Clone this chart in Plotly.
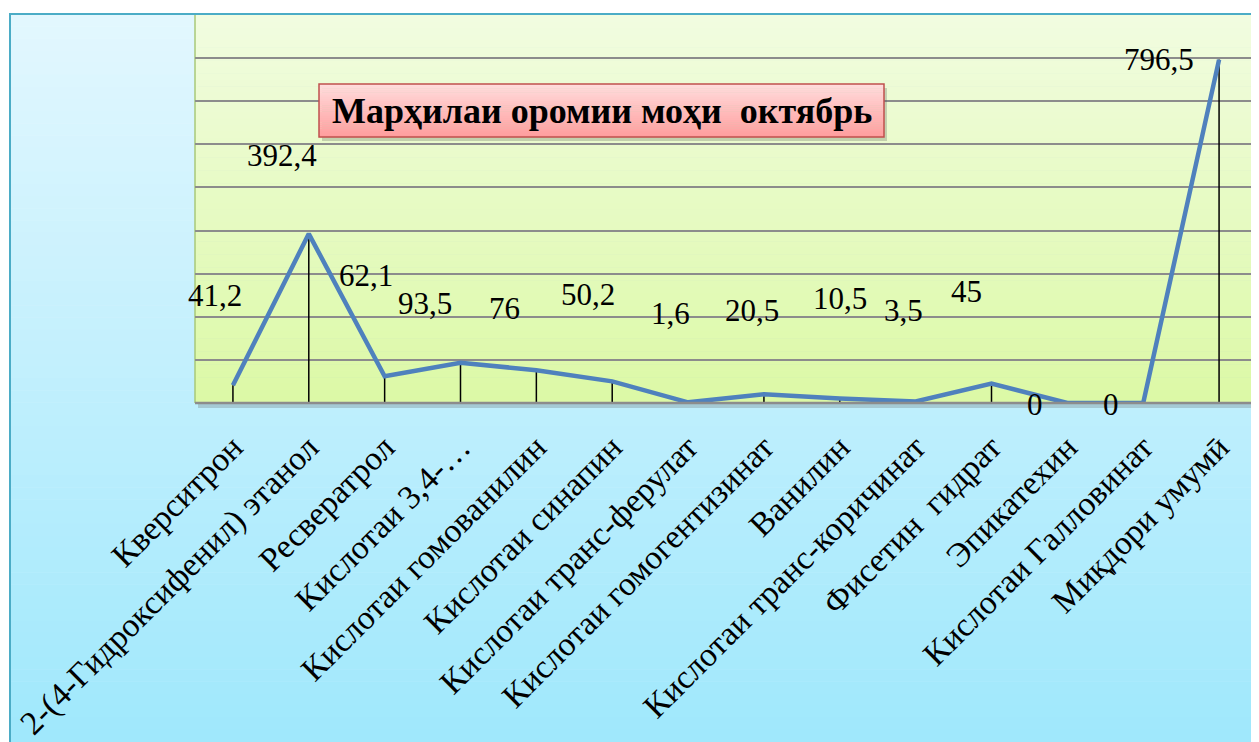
import plotly.graph_objects as go

categories = [
    "Кверситрон",
    "2-(4-Гидроксифенил) этанол",
    "Ресвератрол",
    "Кислотаи 3,4-…",
    "Кислотаи гомованилин",
    "Кислотаи синапин",
    "Кислотаи транс-ферулат",
    "Кислотаи гомогентизинат",
    "Ванилин",
    "Кислотаи транс-коричинат",
    "Фисетин  гидрат",
    "Эпикатехин",
    "Кислотаи Галловинат",
    "Миқдори умумӣ",
]
values = [41.2, 392.4, 62.1, 93.5, 76, 50.2, 1.6, 20.5, 10.5, 3.5, 45, 0, 0, 796.5]
value_labels = ["41,2", "392,4", "62,1", "93,5", "76", "50,2", "1,6", "20,5",
                "10,5", "3,5", "45", "0", "0", "796,5"]
title_text = "Марҳилаи оромии моҳи  октябрь"

# label pixel offsets (styling)
label_dx = [-18, -27, -19, -36, -32, -24, -18, -12, 0, -12, -25, -32, -32, -60]
label_dy = [90, 78, 101, 59, 62, 87, 89, 84, 100, 91, 92, -1, -1, 0]

# page coordinates (browser body has an 8px margin)
OFF = 8
W, H = 1259, 742
L, R, T, B = 195, 1257, 15, 403
PW, PH = R - L, B - T
FW, FH = W - OFF, H - OFF


def px(x):
    return (x - L) / PW


def py(y):
    return (B - y) / PH


def lerp(c1, c2, t):
    return "rgb(%d,%d,%d)" % tuple(round(a + (b - a) * t) for a, b in zip(c1, c2))


shapes = []
# outer frame gradient
n = 60
top_c, bot_c = (226, 247, 254), (160, 232, 252)
y0, y1 = 14, H
for i in range(n):
    a = y0 + (y1 - y0) * i / n
    b = y0 + (y1 - y0) * (i + 1) / n
    shapes.append(dict(type="rect", xref="paper", yref="paper", layer="below",
                       x0=px(10), x1=px(W + 5), y0=py(a), y1=py(b + 0.5),
                       fillcolor=lerp(top_c, bot_c, i / (n - 1)), line_width=0))
# plot area shadow
shapes.append(dict(type="rect", xref="paper", yref="paper", layer="below",
                   x0=px(L + 3), x1=px(R + 3), y0=py(B + 5), y1=py(T + 4),
                   fillcolor="rgba(90,90,90,0.25)", line_width=0))
# plot area gradient
top_p, bot_p = (241, 252, 224), (220, 249, 166)
for i in range(n):
    a = T + PH * i / n
    b = T + PH * (i + 1) / n
    shapes.append(dict(type="rect", xref="paper", yref="paper", layer="below",
                       x0=0, x1=1, y0=py(a), y1=py(b + 0.5),
                       fillcolor=lerp(top_p, bot_p, i / (n - 1)), line_width=0))
shapes.append(dict(type="line", xref="paper", yref="paper", layer="below",
                   x0=0, x1=0, y0=0, y1=1, line=dict(color="#A8C878", width=1.5)))
shapes.append(dict(type="line", xref="paper", yref="paper", layer="above",
                   x0=0, x1=1, y0=0, y1=0, line=dict(color="#8C8C8C", width=2.5)))
# frame border on top
shapes.append(dict(type="rect", xref="paper", yref="paper", layer="above",
                   x0=px(10), x1=px(W + 5), y0=py(14), y1=py(H + 5),
                   fillcolor="rgba(0,0,0,0)", line=dict(color="#4BACC6", width=2)))

# title box (gradient + shadow)
bx0, bx1, by0, by1 = 319, 884, 84, 137
shapes.append(dict(type="rect", xref="paper", yref="paper", layer="above",
                   x0=px(bx0 + 3), x1=px(bx1 + 3), y0=py(by1 + 4), y1=py(by0 + 4),
                   fillcolor="rgba(80,80,80,0.25)", line_width=0))
tb_top, tb_bot = (255, 220, 220), (255, 158, 158)
m = 25
for i in range(m):
    a = by0 + (by1 - by0) * i / m
    b = by0 + (by1 - by0) * (i + 1) / m
    shapes.append(dict(type="rect", xref="paper", yref="paper", layer="above",
                       x0=px(bx0), x1=px(bx1), y0=py(a), y1=py(b + 0.3),
                       fillcolor=lerp(tb_top, tb_bot, i / (m - 1)), line_width=0))
shapes.append(dict(type="rect", xref="paper", yref="paper", layer="above",
                   x0=px(bx0), x1=px(bx1), y0=py(by1), y1=py(by0),
                   fillcolor="rgba(0,0,0,0)", line=dict(color="#C0504D", width=1.5)))

xs = list(range(len(categories)))

# drop lines from data
drop_x, drop_y = [], []
for i, v in zip(xs, values):
    drop_x += [i, i, None]
    drop_y += [0, v, None]

fig = go.Figure()
fig.add_trace(go.Scatter(x=drop_x, y=drop_y, mode="lines",
                         line=dict(color="black", width=1.5),
                         hoverinfo="skip", showlegend=False))
fig.add_trace(go.Scatter(x=xs, y=values, mode="lines",
                         line=dict(color="#4F81BD", width=4.5),
                         showlegend=False))

annotations = []
for i, (v, t) in enumerate(zip(values, value_labels)):
    annotations.append(dict(x=i, y=v, xref="x", yref="y", text=t, showarrow=False,
                            xanchor="center", yanchor="middle",
                            xshift=label_dx[i], yshift=label_dy[i],
                            font=dict(family="Liberation Serif", size=31, color="black")))
annotations.append(dict(x=px((bx0 + bx1) / 2), y=py((by0 + by1) / 2),
                        xref="paper", yref="paper", text="<b>" + title_text + "</b>",
                        showarrow=False, xanchor="center", yanchor="middle",
                        font=dict(family="Liberation Serif", size=36, color="black")))

fig.update_layout(
    width=FW, height=FH,
    margin=dict(l=L - OFF, r=FW - (R - OFF), t=T - OFF, b=FH - (B - OFF), pad=0,
                autoexpand=False),
    paper_bgcolor="white",
    plot_bgcolor="rgba(0,0,0,0)",
    shapes=shapes,
    annotations=annotations,
    showlegend=False,
    xaxis=dict(
        tickmode="array", tickvals=xs, ticktext=categories,
        tickangle=-45, range=[-0.5, len(categories) - 0.5],
        showgrid=False, zeroline=False, showline=False, ticks="",
        ticklabelstandoff=17, ticklabeloverflow="allow", automargin=False,
        tickfont=dict(family="Liberation Serif", size=33.5, color="black"),
    ),
    yaxis=dict(
        range=[0, 900], dtick=100, showticklabels=False,
        showgrid=True, gridcolor="#8C8C8C", gridwidth=1.5,
        zeroline=False, showline=False, ticks="", automargin=False,
    ),
)

fig.write_html("out.html")
